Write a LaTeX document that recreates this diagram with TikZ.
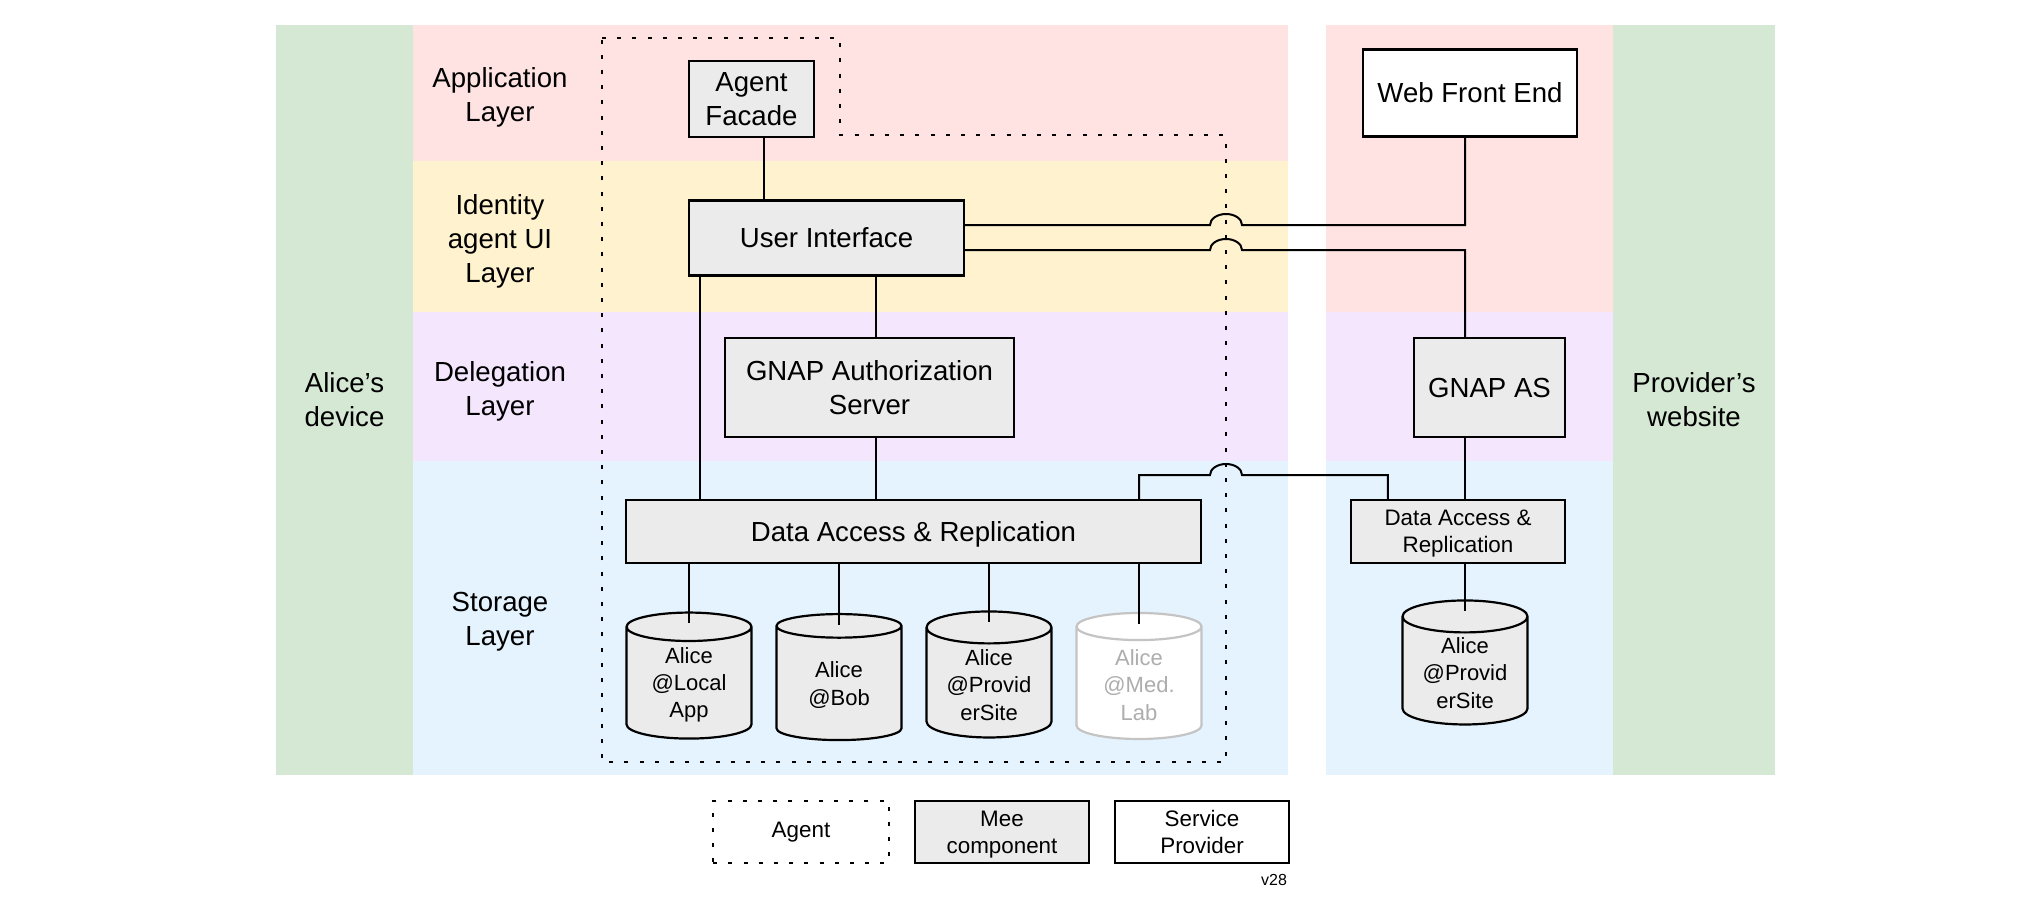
\documentclass[tikz,border=0pt]{standalone}
\usepackage{fontspec}
\setmainfont{Liberation Sans}
\usetikzlibrary{shapes.geometric}

\definecolor{apppink}{HTML}{FFE3E3}
\definecolor{uiyellow}{HTML}{FFF2CF}
\definecolor{delpurple}{HTML}{F3E6FD}
\definecolor{storeblue}{HTML}{E5F3FE}
\definecolor{sidegreen}{HTML}{D5E8D4}
\definecolor{meegray}{HTML}{EBEBEB}
\definecolor{fadedline}{HTML}{C4C4C4}
\definecolor{fadedtext}{HTML}{ADADAD}

\tikzset{
    layer/.style={align=center, font=\fontsize{13.8}{17}\selectfont},
    mee/.style={draw, rectangle, fill=meegray, line width=1.1pt, align=center, text depth=0pt, font=\fontsize{13.8}{17}\selectfont},
    provider/.style={draw, rectangle, fill=white, line width=1.1pt, align=center, text depth=0pt, font=\fontsize{13.8}{17}\selectfont},
    store/.style={draw, cylinder, shape border rotate=90, aspect=0.36, fill=meegray, line width=1.1pt, align=center,
        minimum width=62.5pt, minimum height=63pt, inner sep=1pt, font=\fontsize{11}{13.6}\selectfont},
    smalltext/.style={font=\fontsize{11.2}{13.6}\selectfont},
    link/.style={line width=1pt},
    hop/.style={start angle=180, end angle=0, x radius=8pt, y radius=5.5pt},
    agentline/.style={line width=1.1pt, dash pattern=on 2pt off 5.6pt},
}

\begin{document}
\begin{tikzpicture}[x=0.5pt, y=-0.5pt]
        \useasboundingbox (0,0) rectangle (2038,899);

        % Draw the side panels and the layer bands
        \fill[sidegreen] (276,25) rectangle (413,775);
        \fill[apppink] (413,25) rectangle (1288,161);
        \fill[uiyellow] (413,161) rectangle (1288,312);
        \fill[delpurple] (413,312) rectangle (1288,461);
        \fill[storeblue] (413,461) rectangle (1288,775);
        \fill[apppink] (1326,25) rectangle (1613,312);
        \fill[delpurple] (1326,312) rectangle (1613,461);
        \fill[storeblue] (1326,461) rectangle (1613,775);
        \fill[sidegreen] (1613,25) rectangle (1775,775);

        % Panel and layer labels
        \node[layer] (device) at (344.5,400) {Alice’s\\device};
        \node[layer] (website) at (1694,400) {Provider’s\\website};
        \node[layer] (applayer) at (500,97) {Application\\Layer};
        \node[layer] (uilayer) at (500,241) {Identity\\agent UI\\Layer};
        \node[layer] (dellayer) at (500,391) {Delegation\\Layer};
        \node[layer] (storelayer) at (500,622) {Storage\\Layer};

        % Draw the agent outline
        \draw[agentline] (602,38) -- (840,38) -- (840,135) -- (1226,135) -- (1226,762) -- (602,762) -- cycle;
        \coordinate (hopA) at (1226,225);
        \coordinate (hopB) at (1226,250);
        \coordinate (hopC) at (1226,475);

        % Draw the Mee components on Alice's device
        \node[mee, minimum width=62.5pt, minimum height=38pt] (facade) at (751.5,99) {Agent\\Facade};
        \node[mee, minimum width=137.5pt, minimum height=37.5pt] (ui) at (826.5,238) {User Interface};
        \node[mee, minimum width=144.5pt, minimum height=49.5pt] (gnap) at (869.5,387.5) {GNAP Authorization\\Server};
        \node[mee, minimum width=287.5pt, minimum height=31.5pt] (dar) at (913.5,531.5) {Data Access \& Replication};

        % Draw the data stores
        \node[store] (local) at (689,685) {Alice\\@Local\\App};
        \node[store] (bob) at (839,685) {Alice\\@Bob};
        \node[store] (provsite) at (989,685) {Alice\\@Provid\\erSite};
        \node[store, draw=fadedline, fill=white, text=fadedtext] (medlab) at (1139,685) {Alice\\@Med.\\Lab};

        % Draw the provider's website
        \node[provider, minimum width=106.75pt, minimum height=43.5pt] (wfe) at (1470,93) {Web Front End};
        \node[mee, minimum width=75.5pt, minimum height=49.5pt] (gnapas) at (1489.5,387.5) {GNAP AS};
        \node[mee, smalltext, minimum width=107pt, minimum height=31.5pt] (rdar) at (1458,531.5) {Data Access \&\\Replication};
        \node[store, minimum height=62pt] (rstore) at (1465,673) {Alice\\@Provid\\erSite};

        % Draw the links
        \draw[link] ([xshift=6.25pt]facade.south) -- ([xshift=6.25pt]facade.south |- ui.north);
        \draw[link] ([xshift=6.25pt]ui.south west) -- ([xshift=6.25pt]ui.south west |- dar.north);
        \draw[link] ([xshift=24.75pt]ui.south) -- ([xshift=24.75pt]ui.south |- gnap.north);
        \draw[link] ([xshift=3.25pt]gnap.south) -- ([xshift=3.25pt]gnap.south |- dar.north);
        \draw[link] (dar.south -| local.north) -- ([yshift=-6pt]local.north);
        \draw[link] (dar.south -| bob.north) -- ([yshift=-6pt]bob.north);
        \draw[link] (dar.south -| provsite.north) -- ([yshift=-6pt]provsite.north);
        \draw[link] (dar.south -| medlab.north) -- ([yshift=-6pt]medlab.north);

        % Draw the links that hop over the agent outline
        \draw[link] ([yshift=6.5pt]ui.east) -- ([xshift=-8pt]hopA) arc[hop] -| ([xshift=-2.5pt]wfe.south);
        \draw[link] ([yshift=-6pt]ui.east) -- ([xshift=-8pt]hopB) arc[hop] -| ([xshift=-12.25pt]gnapas.north);
        \draw[link] (dar.north -| medlab.north) |- ([xshift=-8pt]hopC) arc[hop] -| ([xshift=19pt]rdar.north west);

        \draw[link] ([xshift=-12.25pt]gnapas.south) -- ([xshift=-12.25pt]gnapas.south |- rdar.north);
        \draw[link] (rdar.south -| rstore.north) -- ([yshift=-6pt]rstore.north);

        % Draw the legend
        \node[draw, agentline, smalltext, minimum width=87.75pt, minimum height=31.25pt] (legagent) at (801,832) {Agent};
        \node[mee, smalltext, minimum width=87pt, minimum height=31.25pt] (legmee) at (1002,832) {Mee\\component};
        \node[provider, smalltext, minimum width=87pt, minimum height=31.25pt] (legprovider) at (1202,832) {Service\\Provider};
        \node[font=\fontsize{8}{9}\selectfont] (version) at (1274,880) {v28};

    \end{tikzpicture}
\end{document}
